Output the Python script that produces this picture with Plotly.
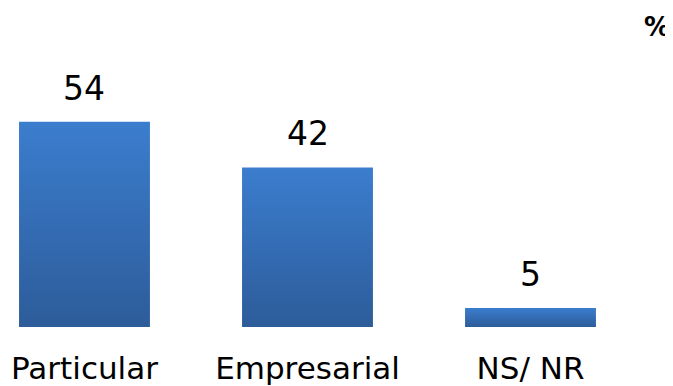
import plotly.graph_objects as go

categories = ["Particular", "Empresarial", "NS/ NR"]
values = [54, 42, 5]
value_labels = ["54", "42", "5"]
unit_label = "%"

bar_width = 0.587
grad_bottom = "#2d5c9a"
grad_top = "#3b7dce"
font_family = "DejaVu Sans"

fig = go.Figure()
for i, v in enumerate(values):
    x0, x1 = i - bar_width / 2, i + bar_width / 2
    fig.add_trace(go.Scatter(
        x=[x0, x1, x1, x0, x0],
        y=[0, 0, v, v, 0],
        mode="lines",
        line=dict(width=0, color=grad_top),
        fill="toself",
        fillgradient=dict(type="vertical",
                          colorscale=[[0, grad_bottom], [1, grad_top]]),
        hoverinfo="skip",
        name=categories[i],
    ))

for i, (v, t) in enumerate(zip(values, value_labels)):
    fig.add_annotation(x=i, y=v, text=t, showarrow=False, xref="x", yref="y",
                       yanchor="bottom", yshift=12,
                       font=dict(family=font_family, size=33, color="#000000"))

fig.add_annotation(x=0.976, y=1 - 19 / 319, xref="paper", yref="paper",
                   text="<b>" + unit_label + "</b>", showarrow=False,
                   xanchor="center", yanchor="middle",
                   font=dict(family=font_family, size=26, color="#000000"))

fig.update_layout(
    width=665, height=378,
    margin=dict(l=0, r=0, t=0, b=59, autoexpand=False),
    paper_bgcolor="white", plot_bgcolor="white",
    showlegend=False,
    xaxis=dict(type="linear", range=[-0.343, 2.639], showgrid=False, zeroline=False,
               showline=False, ticks="",
               tickvals=list(range(len(categories))), ticktext=categories,
               tickfont=dict(family=font_family, size=31, color="#000000"),
               ticklabelstandoff=20),
    yaxis=dict(range=[0, 83.95], visible=False, showgrid=False, zeroline=False),
)

fig.write_html("out.html")
